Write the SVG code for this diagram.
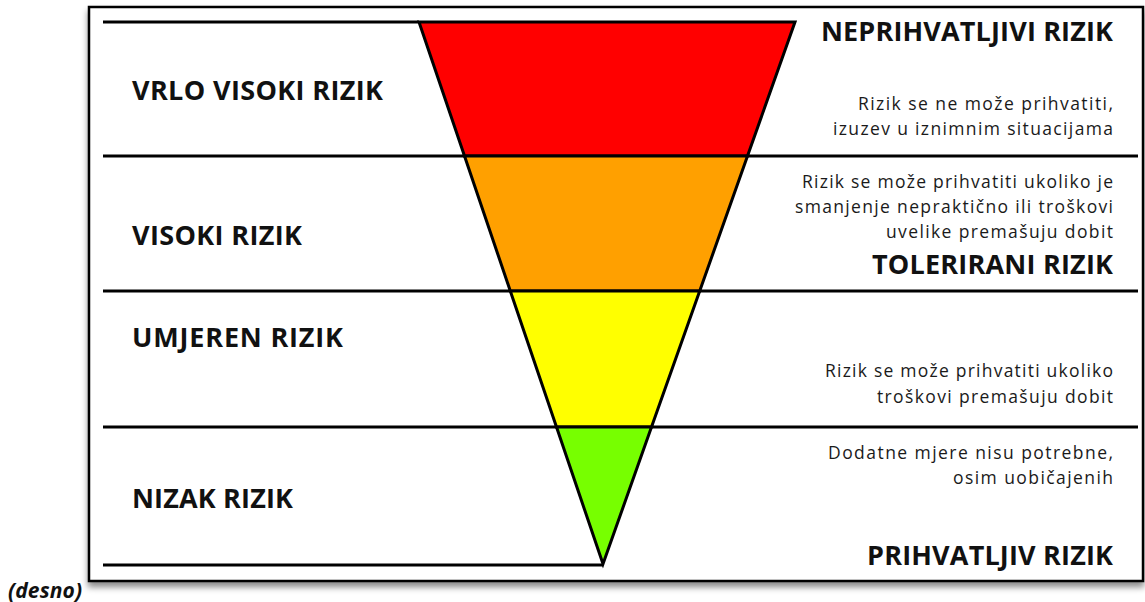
<svg xmlns="http://www.w3.org/2000/svg" width="1145" height="602" viewBox="0 0 1145 602">
  <defs>
    <filter id="shadow" x="-5%" y="-5%" width="110%" height="115%">
      <feDropShadow dx="0" dy="5" stdDeviation="3" flood-color="#000" flood-opacity="0.45"/>
    </filter>
  </defs>
  <style>
    .frame { fill: #fff; stroke: #000; stroke-width: 2.5; }
    .rule { stroke: #000; stroke-width: 3; fill: none; }
    .seg { stroke: #000; stroke-width: 3; stroke-linejoin: miter; }
    .lbl { font-family: "Open Sans", "Liberation Sans", sans-serif; font-weight: bold; font-size: 27px; fill: #111; }
    .ttl { font-family: "Open Sans", "Liberation Sans", sans-serif; font-weight: bold; font-size: 27px; fill: #111; text-anchor: end; }
    .txt { font-family: "Open Sans", "Liberation Sans", sans-serif; font-size: 17.5px; fill: #1a1a1a; text-anchor: end; }
    .note { font-family: "Open Sans", "Liberation Sans", sans-serif; font-weight: bold; font-style: italic; font-size: 21px; fill: #111; }
  </style>

  <rect class="frame" x="89" y="7" width="1054" height="574" filter="url(#shadow)"/>

  <g id="band-vrlo-visoki">
    <polygon class="seg" fill="#FF0000" points="419,22 795,22 747.5,156 464.5,156"/>
    <text class="lbl" x="132" y="100" textLength="251">VRLO VISOKI RIZIK</text>
    <text class="ttl" x="1113" y="41" textLength="292">NEPRIHVATLJIVI RIZIK</text>
    <text class="txt" x="1113" y="110" textLength="255">Rizik se ne može prihvatiti,</text>
    <text class="txt" x="1113" y="135" textLength="280">izuzev u iznimnim situacijama</text>
  </g>

  <g id="band-visoki">
    <polygon class="seg" fill="#FFA000" points="464.5,156 747.5,156 699.7,291 510.3,291"/>
    <text class="lbl" x="132" y="245" textLength="170">VISOKI RIZIK</text>
    <text class="txt" x="1113" y="188" textLength="311">Rizik se može prihvatiti ukoliko je</text>
    <text class="txt" x="1113" y="213" textLength="318">smanjenje nepraktično ili troškovi</text>
    <text class="txt" x="1113" y="238" textLength="227">uvelike premašuju dobit</text>
    <text class="ttl" x="1113" y="274" textLength="241">TOLERIRANI RIZIK</text>
  </g>

  <g id="band-umjeren">
    <polygon class="seg" fill="#FFFF00" points="510.3,291 699.7,291 651.5,427 556.5,427"/>
    <text class="lbl" x="132" y="347" textLength="211">UMJEREN RIZIK</text>
    <text class="txt" x="1113" y="377" textLength="288">Rizik se može prihvatiti ukoliko</text>
    <text class="txt" x="1113" y="403" textLength="236">troškovi premašuju dobit</text>
  </g>

  <g id="band-nizak">
    <polygon class="seg" fill="#77FF00" points="556.5,427 651.5,427 603,564"/>
    <text class="lbl" x="132" y="508" textLength="161">NIZAK RIZIK</text>
    <text class="txt" x="1113" y="459" textLength="285">Dodatne mjere nisu potrebne,</text>
    <text class="txt" x="1113" y="484" textLength="160">osim uobičajenih</text>
    <text class="ttl" x="1113" y="565" textLength="246">PRIHVATLJIV RIZIK</text>
  </g>

  <g id="connectors">
    <line class="rule" x1="103" y1="22" x2="419" y2="22"/>
    <line class="rule" x1="103" y1="156" x2="464.5" y2="156"/>
    <line class="rule" x1="747.5" y1="156" x2="1138" y2="156"/>
    <line class="rule" x1="103" y1="291" x2="510.3" y2="291"/>
    <line class="rule" x1="699.7" y1="291" x2="1138" y2="291"/>
    <line class="rule" x1="103" y1="427" x2="556.5" y2="427"/>
    <line class="rule" x1="651.5" y1="427" x2="1138" y2="427"/>
    <line class="rule" x1="103" y1="565" x2="603" y2="565"/>
  </g>

  <text class="note" x="8" y="598" textLength="74">(desno)</text>
</svg>
